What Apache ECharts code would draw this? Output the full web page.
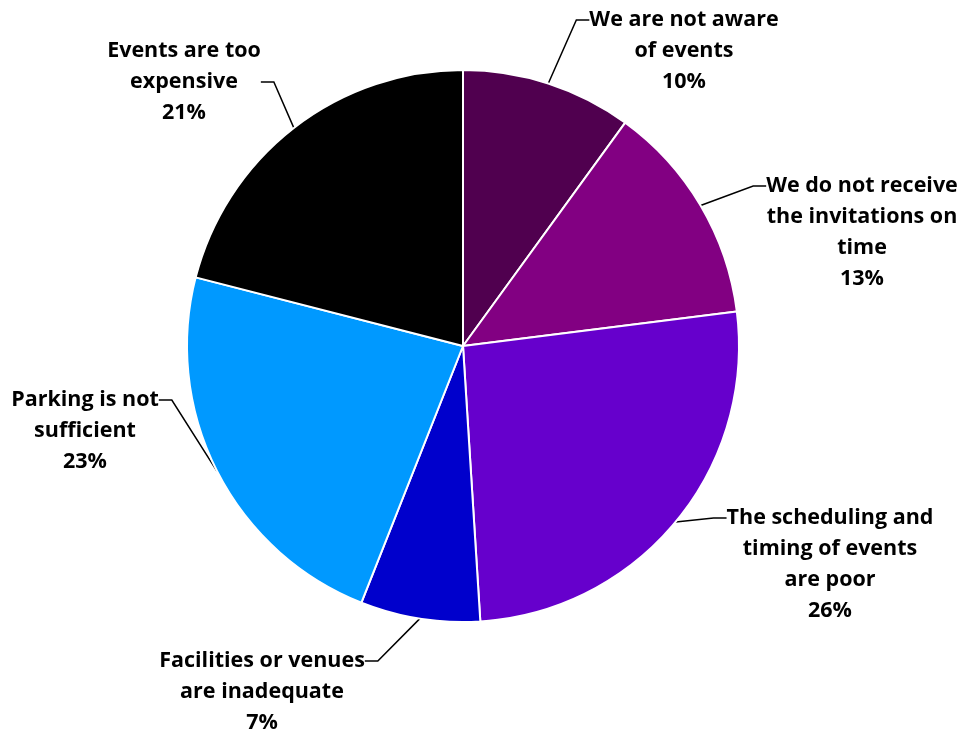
<!DOCTYPE html>
<html>
<head>
<meta charset="utf-8">
<script src="https://cdn.jsdelivr.net/npm/echarts@6/dist/echarts.min.js"></script>
<style>
  html, body { margin: 0; padding: 0; background: #fff; }
  #chart { width: 968px; height: 735px; }
</style>
</head>
<body>
<div id="chart"></div>
<script>
// Reasons for not attending events, share of responses (%)
const categories = [
  'We are not aware\nof events',
  'We do not receive\nthe invitations on\ntime',
  'The scheduling and\ntiming of events\nare poor',
  'Facilities or venues\nare inadequate',
  'Parking is not\nsufficient',
  'Events are too\nexpensive'
];
const shares = [10, 13, 26, 7, 23, 21];
const sliceColors = ['#50004F', '#820082', '#6600CC', '#0000CC', '#0099FF', '#000000'];

// Label block placement: centre x, y of the text line the leader meets,
// and which text line (0-based) that leader meets
const labelSpots = [
  [684, 20, 0], [862, 186, 0], [830, 518, 0], [262, 661, 0], [85, 400, 0], [184, 82, 1]
];

const chart = echarts.init(document.getElementById('chart'), null, { renderer: 'canvas' });

// Blank lines above/below so the box's vertical middle sits on the line the leader meets
function labelText(p) {
  const lines = (p.name + '\n' + p.value + '%').split('\n');
  const k = labelSpots[p.dataIndex][2];
  const d = 2 * k + 1 - lines.length; // extra bottom lines minus extra top lines
  const top = d < 0 ? -d : 0;
  const bottom = d > 0 ? d : 0;
  return '\n'.repeat(top) + lines.join('\n') + '\n'.repeat(bottom);
}

chart.setOption({
  animation: false,
  backgroundColor: '#ffffff',
  series: [{
    type: 'pie',
    center: [463, 346],
    radius: [0, 276],
    startAngle: 90,
    clockwise: true,
    data: categories.map((name, i) => ({
      name: name,
      value: shares[i],
      itemStyle: { color: sliceColors[i] }
    })),
    itemStyle: { borderColor: '#ffffff', borderWidth: 2 },
    label: {
      show: true,
      position: 'outside',
      formatter: labelText,
      color: '#000000',
      fontFamily: '"Open Sans", sans-serif',
      fontWeight: 'bold',
      fontSize: 21.5,
      lineHeight: 31,
      align: 'center'
    },
    labelLine: {
      show: true,
      length: 15,
      length2: 13,
      lineStyle: { color: '#000000', width: 1.5 }
    },
    labelLayout: function (params) {
      const s = labelSpots[params.dataIndex];
      return { x: s[0], y: s[1], align: 'center', verticalAlign: 'middle' };
    }
  }]
});
</script>
</body>
</html>
